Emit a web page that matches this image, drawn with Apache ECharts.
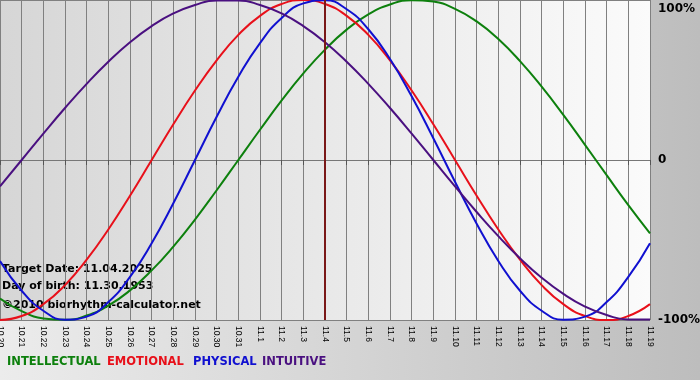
<!DOCTYPE html>
<html><head><meta charset="utf-8">
<script src="https://cdn.jsdelivr.net/npm/echarts@6/dist/echarts.min.js"></script>
<style>html,body{margin:0;padding:0;}#c{width:700px;height:380px;}</style>
</head><body><div id="c"></div>
<script>
const categories = ['10.20','10.21','10.22','10.23','10.24','10.25','10.26','10.27','10.28','10.29','10.30','10.31','11.1','11.2','11.3','11.4','11.5','11.6','11.7','11.8','11.9','11.10','11.11','11.12','11.13','11.14','11.15','11.16','11.17','11.18','11.19'];
const intellectual = [-86.6,-94.5,-99.0,-99.9,-97.2,-91.0,-81.5,-69.0,-54.1,-37.2,-18.9,0,18.9,37.2,54.1,69.0,81.5,91.0,97.2,99.9,99.0,94.5,86.6,75.6,61.8,45.8,28.2,9.5,-9.5,-28.2,-45.8];
const emotional = [-100,-97.5,-90.1,-78.2,-62.3,-43.4,-22.3,0,22.3,43.4,62.3,78.2,90.1,97.5,100,97.5,90.1,78.2,62.3,43.4,22.3,0,-22.3,-43.4,-62.3,-78.2,-90.1,-97.5,-100,-97.5,-90.1];
const physical = [-63.1,-81.7,-94.2,-99.8,-97.9,-88.8,-73.1,-52.0,-27.0,0,27.0,52.0,73.1,88.8,97.9,99.8,94.2,81.7,63.1,39.8,13.6,-13.6,-39.8,-63.1,-81.7,-94.2,-99.8,-97.9,-88.8,-73.1,-52.0];
const intuitive = [-16.5,0,16.5,32.5,47.6,61.4,73.6,83.7,91.6,96.9,99.7,99.7,96.9,91.6,83.7,73.6,61.4,47.6,32.5,16.5,0,-16.5,-32.5,-47.6,-61.4,-73.6,-83.7,-91.6,-96.9,-99.7,-99.7];
const yTicks = {'100':'100%','0':'0','-100':'-100%'};
const targetDay = '11.4';
const seriesNames = ['INTELLECTUAL','EMOTIONAL','PHYSICAL','INTUITIVE'];
const infoLines = ['Target Date: 11.04.2025','Day of birth: 11.30.1953','\u00a92010 biorhythm-calculator.net'];

const colors = ['#0d800d','#e8101a','#1010d0','#4a1080'];
const chart = echarts.init(document.getElementById('c'));
const mk = (name, data, i) => ({
  name, type:'line', data, smooth:true, symbol:'none',
  lineStyle:{color:colors[i], width:2}, itemStyle:{color:colors[i]}, z: 3
});
const series = [mk(seriesNames[0],intellectual,0), mk(seriesNames[1],emotional,1), mk(seriesNames[2],physical,2), mk(seriesNames[3],intuitive,3)];
series[0].markLine = {silent:true, symbol:'none', label:{show:false},
  lineStyle:{color:'#7a1818', width:2, type:'solid'}, data:[{xAxis:targetDay}]};
chart.setOption({
  animation:false,
  backgroundColor:{type:'linear',x:0,y:0,x2:1,y2:0,colorStops:[{offset:0,color:'#ececec'},{offset:1,color:'#bdbdbd'}]},
  grid:{left:0, right:50, top:0, bottom:60, show:true, borderWidth:0, outerBoundsMode:'none', containLabel:false,
    backgroundColor:{type:'linear',x:0,y:0,x2:1,y2:0,colorStops:[{offset:0,color:'#d6d6d6'},{offset:1,color:'#fbfbfb'}]}},
  xAxis:{type:'category', data:categories, boundaryGap:false,
    axisLine:{lineStyle:{color:'#777',width:1}},
    axisTick:{show:true, length:5, lineStyle:{color:'#555'}},
    axisLabel:{rotate:-90, color:'#000', fontSize:8.5, fontFamily:'Liberation Sans', margin:6, interval:0},
    splitLine:{show:true, lineStyle:{color:'#808080', width:1}}},
  yAxis:{type:'value', min:-100, max:100, interval:100, position:'right',
    axisLine:{show:false}, axisTick:{show:false},
    axisLabel:{formatter:v=>yTicks[String(v)], color:'#000', fontWeight:'bold', fontSize:12, fontFamily:'DejaVu Sans', margin:8,
      verticalAlignMaxLabel:'top', padding:[3,0,0,0]},
    splitLine:{show:true, lineStyle:{color:'#808080', width:1}}},
  legend:{show:false},
  graphic:[
    {type:'text', left:2, top:264, style:{text:infoLines[0], font:'bold 11px "DejaVu Sans"', fill:'#000'}},
    {type:'text', left:2, top:281, style:{text:infoLines[1], font:'bold 11px "DejaVu Sans"', fill:'#000'}},
    {type:'text', left:2, top:300, style:{text:infoLines[2], font:'bold 11px "DejaVu Sans"', fill:'#000'}},
    {type:'group', left:7, top:356, children:[
      {type:'text', x:0, y:0, style:{text:seriesNames[0], font:'bold 11.5px "DejaVu Sans"', fill:colors[0]}},
      {type:'text', x:100, y:0, style:{text:seriesNames[1], font:'bold 11.5px "DejaVu Sans"', fill:colors[1]}},
      {type:'text', x:186, y:0, style:{text:seriesNames[2], font:'bold 11.5px "DejaVu Sans"', fill:colors[2]}},
      {type:'text', x:255, y:0, style:{text:seriesNames[3], font:'bold 11.5px "DejaVu Sans"', fill:colors[3]}}
    ]}
  ],
  series
});
</script></body></html>
